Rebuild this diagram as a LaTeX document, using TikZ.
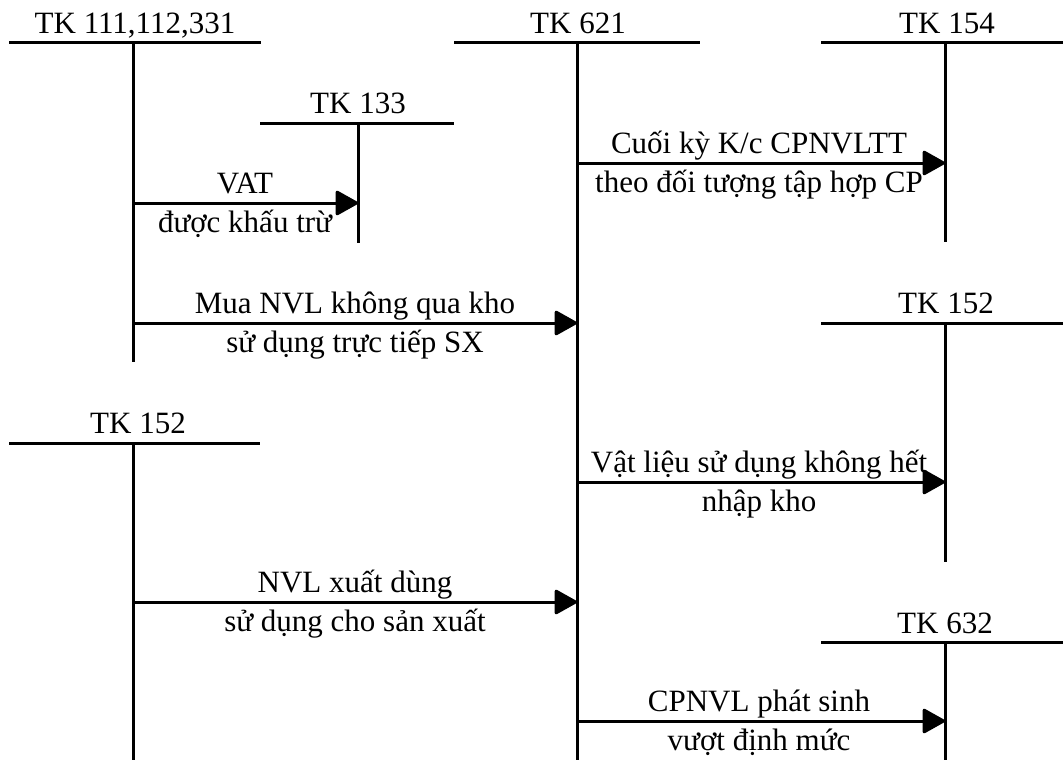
\documentclass[tikz,border=0pt]{standalone}
\usepackage{fontspec}
\setmainfont{Liberation Serif}
\usetikzlibrary{arrows.meta}
\begin{document}
\begin{tikzpicture}[x=1pt,y=-1pt,
  acct/.style={line width=3pt},
  flow/.style={line width=3pt,-{Triangle[length=24pt,width=26pt,round]}},
  lbl/.style={anchor=base,inner sep=0pt,font=\fontsize{31}{37}\selectfont}]
\useasboundingbox (0,0) rectangle (1063,760);
% account coordinates
\coordinate (h111a) at (9,43);   \coordinate (h111b) at (261,43);
\coordinate (v111a) at (133,43); \coordinate (v111b) at (133,362);
\coordinate (h133a) at (260,123); \coordinate (h133b) at (454,123);
\coordinate (v133a) at (358,123); \coordinate (v133b) at (358,243);
\coordinate (h621a) at (454,43); \coordinate (h621b) at (700,43);
\coordinate (v621a) at (577,43); \coordinate (v621b) at (577,760);
\coordinate (h154a) at (821,43); \coordinate (h154b) at (1063,43);
\coordinate (v154a) at (945,43); \coordinate (v154b) at (945,242);
\coordinate (h152ra) at (821,323); \coordinate (h152rb) at (1063,323);
\coordinate (v152ra) at (945,323); \coordinate (v152rb) at (945,562);
\coordinate (h152la) at (9,443); \coordinate (h152lb) at (260,443);
\coordinate (v152la) at (133,443); \coordinate (v152lb) at (133,760);
\coordinate (h632a) at (821,642); \coordinate (h632b) at (1063,642);
\coordinate (v632a) at (945,642); \coordinate (v632b) at (945,760);
% T lines
\draw[acct] (h111a) -- (h111b); \draw[acct] (v111a) -- (v111b);
\draw[acct] (h133a) -- (h133b); \draw[acct] (v133a) -- (v133b);
\draw[acct] (h621a) -- (h621b); \draw[acct] (v621a) -- (v621b);
\draw[acct] (h154a) -- (h154b); \draw[acct] (v154a) -- (v154b);
\draw[acct] (h152ra) -- (h152rb); \draw[acct] (v152ra) -- (v152rb);
\draw[acct] (h152la) -- (h152lb); \draw[acct] (v152la) -- (v152lb);
\draw[acct] (h632a) -- (h632b); \draw[acct] (v632a) -- (v632b);
% titles
\node[lbl] (t111) at (135,34) {TK 111,112,331};
\node[lbl] (t133) at (358,113) {TK 133};
\node[lbl] (t621) at (578,34) {TK 621};
\node[lbl] (t154) at (947,34) {TK 154};
\node[lbl] (t152r) at (946,313) {TK 152};
\node[lbl] (t152l) at (138,433) {TK 152};
\node[lbl] (t632) at (945,633) {TK 632};
% flow points
\coordinate (fa1) at (133,203); \coordinate (fa2) at (358,203);
\coordinate (fb1) at (577,163); \coordinate (fb2) at (945,163);
\coordinate (fc1) at (133,323); \coordinate (fc2) at (577,323);
\coordinate (fd1) at (577,482); \coordinate (fd2) at (945,482);
\coordinate (fe1) at (133,602); \coordinate (fe2) at (577,602);
\coordinate (ff1) at (577,721); \coordinate (ff2) at (945,721);
\draw[flow] (fa1) -- (fa2);
\draw[flow] (fb1) -- (fb2);
\draw[flow] (fc1) -- (fc2);
\draw[flow] (fd1) -- (fd2);
\draw[flow] (fe1) -- (fe2);
\draw[flow] (ff1) -- (ff2);
% flow labels
\node[lbl] (la1) at (245,193) {VAT};
\node[lbl] (la2) at (245,232) {được khấu trừ};
\node[lbl] (lb1) at (759,153) {Cuối kỳ K/c CPNVLTT};
\node[lbl] (lb2) at (759,192) {theo đối tượng tập hợp CP};
\node[lbl] (lc1) at (355,313) {Mua NVL không qua kho};
\node[lbl] (lc2) at (355,352) {sử dụng trực tiếp SX};
\node[lbl] (ld1) at (759,472) {Vật liệu sử dụng không hết};
\node[lbl] (ld2) at (759,511) {nhập kho};
\node[lbl] (le1) at (355,592) {NVL xuất dùng};
\node[lbl] (le2) at (355,631) {sử dụng cho sản xuất};
\node[lbl] (lf1) at (759,711) {CPNVL phát sinh};
\node[lbl] (lf2) at (759,750) {vượt định mức};
\end{tikzpicture}
\end{document}
